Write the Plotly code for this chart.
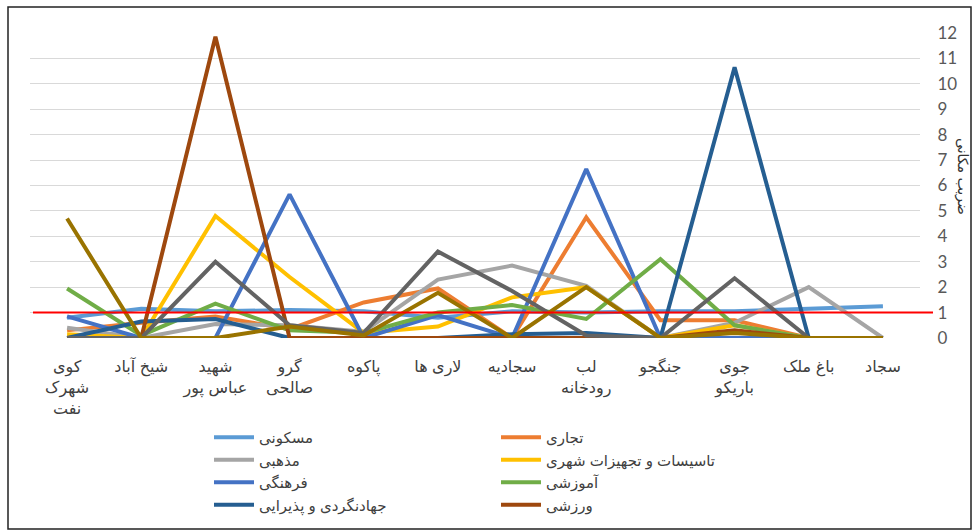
import plotly.graph_objects as go

categories = ["کوی<br>شهرک<br>نفت", "شیخ آباد", "شهید<br>عباس پور", "گرو<br>صالحی", "پاکوه", "لاری ها",
              "سجادیه", "لب<br>رودخانه", "جنگجو", "جوی<br>باریکو", "باغ ملک", "سجاد"]

maskuni = [0.8, 1.15, 1.05, 1.1, 1.05, 0.8, 1.05, 1.0, 1.05, 1.05, 1.15, 1.25]
tejari = [0.3, 0.6, 0.85, 0.35, 1.4, 1.95, 0, 4.75, 0.7, 0.7, 0, 0]
mazhabi = [0.4, 0, 0.55, 0.5, 0.25, 2.3, 2.85, 2.05, 0, 0.6, 2.0, 0]
tasisat = [0.15, 0, 4.8, 2.4, 0.2, 0.45, 1.6, 2.0, 0, 0.5, 0, 0]
farhangi = [0.85, 0, 0, 5.65, 0, 0.9, 0, 6.65, 0, 0, 0, 0]
amuzeshi = [1.95, 0.1, 1.35, 0.3, 0.2, 1.0, 1.3, 0.75, 3.1, 0.5, 0, 0]
jahangardi = [0, 0.65, 0.75, 0, 0, 0, 0.15, 0.2, 0, 10.65, 0, 0]
varzeshi = [0, 0, 11.85, 0, 0, 0, 0, 0, 0, 0.3, 0, 0]
series9 = [0, 0, 3.0, 0.5, 0.2, 3.4, 1.85, 0.1, 0, 2.35, 0, 0]
series10 = [4.7, 0, 0, 0.45, 0.1, 1.78, 0, 2.0, 0, 0.2, 0, 0]

names = ["مسکونی", "تجاری", "مذهبی", "تاسیسات و تجهیزات شهری", "فرهنگی", "آموزشی",
         "جهادنگردی و پذیرایی", "ورزشی", "سری ۹", "سری ۱۰"]
values = [maskuni, tejari, mazhabi, tasisat, farhangi, amuzeshi, jahangardi, varzeshi, series9, series10]
colors = ["#5B9BD5", "#ED7D31", "#A5A5A5", "#FFC000", "#4472C4", "#70AD47",
          "#255E91", "#9E480E", "#636363", "#997300"]
legend_of = ["legend", "legend2", "legend", "legend2", "legend", "legend2", "legend", "legend2", None, None]

W, H = 974, 532
ML, MR, MT, MB = 30, 54, 33, 194
PW, PH = W - ML - MR, H - MT - MB

def px2x(p):
    return (p - ML) / PW

def py2y(p):
    return 1 - (p - MT) / PH

fig = go.Figure()
for n, v, c, lg in zip(names, values, colors, legend_of):
    fig.add_trace(go.Scatter(
        x=categories, y=v, name=n, mode="lines",
        line=dict(color=c, width=4),
        showlegend=lg is not None,
        legend=lg if lg else "legend",
    ))

fig.add_shape(type="line", xref="paper", yref="y", x0=px2x(33), x1=px2x(933), y0=1, y1=1,
              line=dict(color="#FF0000", width=2))
fig.add_shape(type="rect", xref="paper", yref="paper", x0=px2x(8), x1=px2x(971),
              y0=py2y(529), y1=py2y(7), line=dict(color="#222222", width=1.5), layer="below")

fig.add_annotation(text="ضریب مکانی", xref="paper", yref="paper", x=px2x(963), y=py2y(177),
                   xanchor="center", yanchor="middle",
                   textangle=90, showarrow=False,
                   font=dict(family="DejaVu Sans", size=14, color="#333333"))

legend_common = dict(orientation="v", xref="container", yref="container", yanchor="top",
                     xanchor="left", bgcolor="rgba(0,0,0,0)", itemwidth=40,
                     font=dict(family="Arial, DejaVu Sans", size=15, color="#404040"),
                     tracegroupgap=0)

fig.update_layout(
    width=W, height=H,
    margin=dict(l=ML, r=MR, t=MT, b=MB, autoexpand=False),
    paper_bgcolor="white", plot_bgcolor="white",
    font=dict(family="Arial, DejaVu Sans", color="#404040"),
    legend=dict(x=209 / W, y=1 - 421 / H, **legend_common),
    legend2=dict(x=496 / W, y=1 - 421 / H, **legend_common),
    xaxis=dict(type="category", categoryorder="array", categoryarray=categories,
               range=[-0.5, 11.5], showgrid=False, zeroline=False, showline=False,
               automargin=False, tickangle=0,
               ticks="outside", ticklen=14, tickcolor="rgba(0,0,0,0)",
               tickfont=dict(family="Arial, DejaVu Sans", size=16, color="#404040")),
    yaxis=dict(side="right", range=[0, 12], dtick=1, showgrid=True, gridcolor="#D9D9D9",
               gridwidth=1, zeroline=False, showline=False, automargin=False,
               ticks="outside", ticklen=13, tickcolor="rgba(0,0,0,0)",
               tickfont=dict(family="Lato, Open Sans", size=17, color="#595959")),
)

fig.write_html("out.html", config={"displayModeBar": False},
               post_script="document.body.style.margin='0';document.body.style.overflow='hidden';")
